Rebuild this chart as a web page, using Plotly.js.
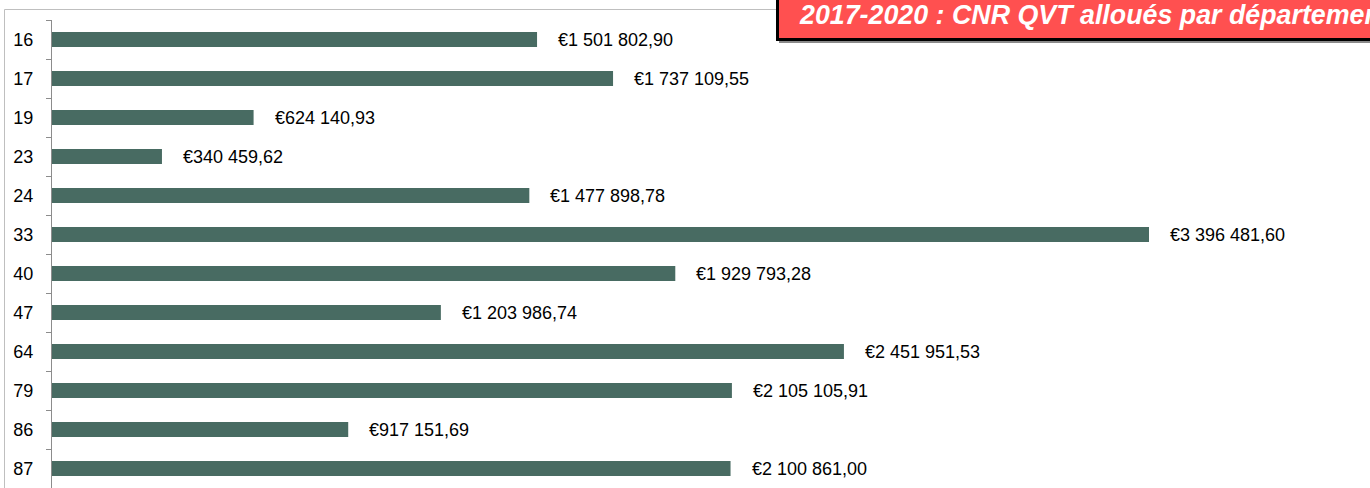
<!DOCTYPE html>
<html>
<head>
<meta charset="utf-8">
<script src="https://cdn.plot.ly/plotly-3.0.1.min.js"></script>
<style>
html,body{margin:0;padding:0;background:#fff;}
#chart{width:1370px;height:488px;}
</style>
</head>
<body>
<div id="chart"></div>
<script>
const departements = ["16","17","19","23","24","33","40","47","64","79","86","87"];
const montants = [1501802.90, 1737109.55, 624140.93, 340459.62, 1477898.78, 3396481.60, 1929793.28, 1203986.74, 2451951.53, 2105105.91, 917151.69, 2100861.00];
const titre = "2017-2020 : CNR QVT alloués par département";

const W = 1370, H = 488;
const mL = 52, mT = 20, mR = 0, mB = 0;
const plotW = W - mL - mR, plotH = H - mT - mB;
const pxPerUnit = 1097 / 3396481.6;
const xMax = plotW / pxPerUnit;

function fmtEuro(v){
  const parts = v.toFixed(2).split(".");
  const intPart = parts[0].replace(/\B(?=(\d{3})+(?!\d))/g, " ");
  return "€" + intPart + "," + parts[1];
}
function px2paperX(px){ return (px - mL) / plotW; }
function px2paperY(py){ return 1 - (py - mT) / plotH; }

const font = "Liberation Sans, Arial, sans-serif";

const trace = {
  type: "bar",
  orientation: "h",
  x: montants,
  y: departements,
  marker: {color: "#486B62"},
  hoverinfo: "none"
};

const annotations = departements.map((d, i) => ({
  x: montants[i], y: i, xref: "x", yref: "y",
  text: fmtEuro(montants[i]),
  showarrow: false, xanchor: "left", yanchor: "middle",
  xshift: 19,
  font: {family: font, size: 18, color: "#000"}
}));

annotations.push({
  xref: "paper", yref: "paper",
  x: px2paperX(797), y: px2paperY(15),
  xanchor: "left", yanchor: "middle",
  text: "<b><i>" + titre + "</i></b>",
  showarrow: false,
  font: {family: font, size: 26.8, color: "#fff"}
});

const shapes = [
  {type: "rect", xref: "paper", yref: "paper", layer: "below",
   x0: px2paperX(4.5), x1: px2paperX(1400), y0: px2paperY(9.5), y1: px2paperY(520),
   line: {color: "#BFBFBF", width: 1}, fillcolor: "rgba(0,0,0,0)"},
  {type: "rect", xref: "paper", yref: "paper",
   x0: px2paperX(779), x1: px2paperX(1400), y0: px2paperY(43), y1: px2paperY(-10),
   line: {width: 0}, fillcolor: "#8A8A8A"},
  {type: "rect", xref: "paper", yref: "paper",
   x0: px2paperX(777.5), x1: px2paperX(1400), y0: px2paperY(39.5), y1: px2paperY(-10),
   line: {color: "#000", width: 3}, fillcolor: "#FF5050"}
];

const layout = {
  width: W, height: H,
  margin: {l: mL, r: mR, t: mT, b: mB, pad: 0},
  paper_bgcolor: "#fff", plot_bgcolor: "#fff",
  showlegend: false,
  bargap: 0.615,
  font: {family: font, size: 18, color: "#000"},
  xaxis: {
    range: [0, xMax], visible: false, showgrid: false, zeroline: false, fixedrange: true
  },
  yaxis: {
    type: "category",
    range: [11.5, -0.5],
    showline: true, linecolor: "#8C8C8C", linewidth: 1,
    ticks: "outside", tickson: "boundaries", ticklen: 5, tickcolor: "#8C8C8C", tickwidth: 1,
    ticklabelstandoff: 14,
    showgrid: false, zeroline: false,
    tickfont: {family: font, size: 18, color: "#000"},
    fixedrange: true
  },
  annotations: annotations,
  shapes: shapes
};

Plotly.newPlot("chart", [trace], layout, {staticPlot: true, displayModeBar: false});
</script>
</body>
</html>
